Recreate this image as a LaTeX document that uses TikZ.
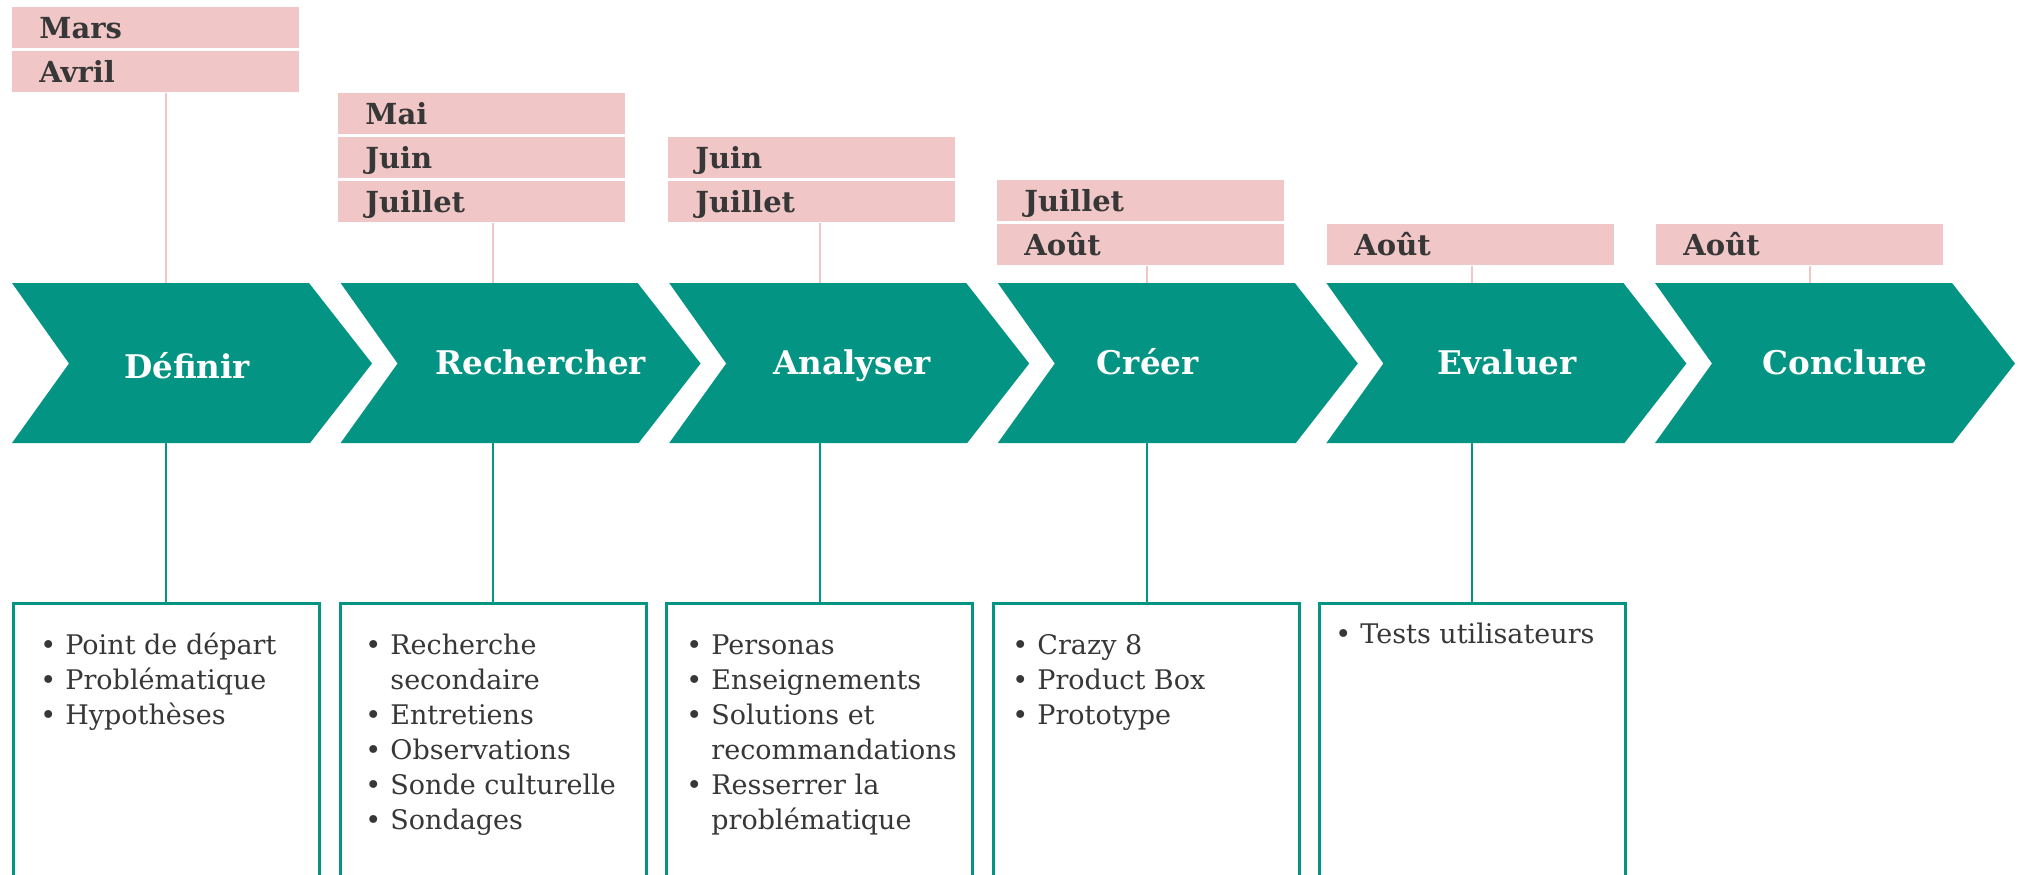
\documentclass[tikz,border=0pt]{standalone}
\usepackage{fontspec}
\setmainfont{DejaVu Serif}
\definecolor{vert}{RGB}{4,148,131}
\definecolor{rose}{RGB}{240,199,198}
\definecolor{encre}{RGB}{55,55,55}
\newcommand{\itm}{\llap{\textbullet\hspace{4.5pt}}}

\begin{document}
\begin{tikzpicture}
        [x=0.5pt, y=-0.5pt,
         mois/.style={fill=rose, anchor=north west, text width=116.5pt, inner xsep=13.5pt, inner ysep=0pt,
                      minimum height=20.5pt, text height=12.6pt, text depth=2pt, align=left,
                      text=encre, font=\bfseries\fontsize{14.5}{17}\selectfont},
         etape/.style={anchor=base, text=white, font=\bfseries\fontsize{16.3}{19}\selectfont},
         liste/.style={anchor=north west, draw=vert, line width=1.4pt, minimum width=153pt, minimum height=150pt, inner sep=0pt},
         ligne/.style={anchor=base west, inner sep=0pt, text=encre, font=\fontsize{13.5}{17.5}\selectfont}]
        \useasboundingbox (0,0) rectangle (2018,874);
        \clip (0,0) rectangle (2018,874);
        % chevrons
        \foreach \i/\L/\lx/\cx/\by/\nom in {1/12/166/175/378/Définir, 2/340.6/493/200/374/Rechercher, 3/669.2/820/183/374/Analyser,
                                            4/997.8/1147/150/374/Créer, 5/1326.4/1472/181/374/Evaluer, 6/1655/1810/190/374/Conclure}
          {
            \fill[vert] (\L,283) -- (\L+57,363.5) -- (\L,443) -- (\L+298,443) -- (\L+360,363.5) -- (\L+297,283) -- cycle;
            \node[etape] (ch\i) at (\L+\cx,\by) {\nom};
            \coordinate (ct\i) at (\lx,283);
            \coordinate (cb\i) at (\lx,443);
          }
        % mois
        \foreach \i/\L/\t/\n/\liste in {1/12/7/2/{Mars,Avril}, 2/338/93/3/{Mai,Juin,Juillet}, 3/668/137/2/{Juin,Juillet},
                                        4/997/180/2/{Juillet,Août}, 5/1327/224/1/{Août}, 6/1656/224/1/{Août}}
          {
            \foreach \m [count=\k] in \liste
              \node[mois] (mo-\i-\k) at (\L,\t+44*\k-44) {\m};
            \draw[rose, line width=1pt] (ct\i |- mo-\i-\n.south) -- (ct\i);
          }
        % listes
        \foreach \j/\B/\tx/\bl/\items in {1/12/65/654/{\itm Point de départ,\itm Problématique,\itm Hypothèses},
            2/339/390/654/{\itm Recherche,secondaire,\itm Entretiens,\itm Observations,\itm Sonde culturelle,\itm Sondages},
            3/665/711/654/{\itm Personas,\itm Enseignements,\itm Solutions et,recommandations,\itm Resserrer la,problématique},
            4/992/1037/654/{\itm Crazy 8,\itm Product Box,\itm Prototype},
            5/1318/1360/643/{\itm Tests utilisateurs}}
          {
            \node[liste] (bx\j) at (\B,602) {};
            \draw[vert, line width=1.3pt] (cb\j) -- (cb\j |- bx\j.north);
            \foreach \t [count=\k] in \items
              \node[ligne] (tx-\j-\k) at (\tx,\bl+35*\k-35) {\t};
          }
      \end{tikzpicture}
\end{document}
